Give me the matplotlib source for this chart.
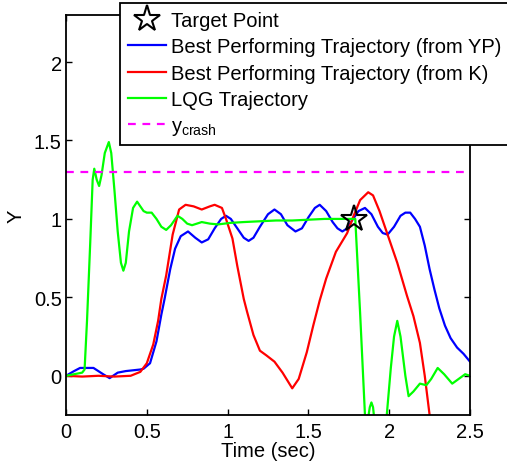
import matplotlib
matplotlib.use("Agg")
import matplotlib.pyplot as plt

plt.rcParams['font.family'] = ['Liberation Sans', 'DejaVu Sans']

# LQG trajectory
t_lqg = [0, 0.05, 0.10, 0.115, 0.13, 0.15, 0.165, 0.175, 0.19, 0.205, 0.22, 0.24, 0.265, 0.28,
         0.30, 0.32, 0.34, 0.355, 0.37, 0.39, 0.415, 0.44, 0.46, 0.48, 0.50, 0.53, 0.56,
         0.59, 0.62, 0.65, 0.69, 0.72, 0.75, 0.78, 0.81, 0.84, 0.89, 0.94, 0.98,
         1.02, 1.1, 1.2, 1.3, 1.4, 1.5, 1.6, 1.7, 1.75, 1.79, 1.82, 1.85,
         1.865, 1.88, 1.89, 1.90, 1.915, 1.94, 1.965, 1.985, 2.01, 2.03, 2.05, 2.07,
         2.10, 2.12, 2.15, 2.19, 2.23, 2.26, 2.30, 2.34, 2.39, 2.43, 2.47, 2.5]
y_lqg = [0, 0.01, 0.02, 0.04, 0.35, 0.85, 1.25, 1.32, 1.25, 1.21, 1.28, 1.42, 1.49, 1.42,
         1.18, 0.92, 0.72, 0.67, 0.72, 0.92, 1.07, 1.11, 1.08, 1.05, 1.04, 1.04, 1.0,
         0.95, 0.93, 0.96, 1.02, 1.0, 0.97, 0.96, 0.97, 0.98, 0.97, 0.965, 0.97,
         0.975, 0.98, 0.985, 0.99, 0.99, 0.995, 1.0, 1.0, 1.0, 1.0, 0.4, -0.25,
         -0.3, -0.2, -0.17, -0.2, -0.35, -0.5, -0.4, -0.25, 0.05, 0.25, 0.35, 0.25,
         0.0, -0.13, -0.1, -0.05, -0.06, -0.02, 0.05, 0.01, -0.05, -0.02, 0.01, 0.0]

# Best performing trajectory (from YP)
t_yp = [0, 0.05, 0.087, 0.17, 0.23, 0.27, 0.32, 0.37, 0.46, 0.48, 0.52, 0.56, 0.59, 0.61,
        0.645, 0.675, 0.71, 0.755, 0.80, 0.84, 0.88, 0.92, 0.96, 0.99, 1.02, 1.06, 1.10,
        1.13, 1.16, 1.20, 1.25, 1.29, 1.33, 1.37, 1.42, 1.46, 1.50, 1.54, 1.57, 1.61, 1.65,
        1.68, 1.71, 1.74, 1.77, 1.81, 1.85, 1.89, 1.93, 1.96, 1.99, 2.03, 2.07, 2.10, 2.13,
        2.16, 2.19, 2.22, 2.25, 2.28, 2.31, 2.345, 2.38, 2.42, 2.46, 2.5]
y_yp = [0, 0.03, 0.05, 0.05, 0.01, -0.015, 0.02, 0.03, 0.04, 0.045, 0.08, 0.22, 0.39, 0.49,
        0.68, 0.81, 0.89, 0.92, 0.88, 0.85, 0.87, 0.94, 1.0, 1.02, 1.0, 0.94, 0.88,
        0.86, 0.88, 0.95, 1.03, 1.06, 1.03, 0.96, 0.92, 0.94, 1.01, 1.07, 1.09, 1.05, 0.98,
        0.94, 0.92, 0.94, 0.99, 1.05, 1.07, 1.03, 0.95, 0.91, 0.90, 0.95, 1.02, 1.04, 1.04,
        1.0, 0.95, 0.83, 0.68, 0.55, 0.43, 0.32, 0.24, 0.18, 0.14, 0.09]

# Best performing trajectory (from K)
t_k = [0, 0.1, 0.2, 0.3, 0.4, 0.46, 0.50, 0.54, 0.57, 0.59, 0.62, 0.66, 0.70, 0.74, 0.79,
       0.84, 0.89, 0.92, 0.965, 0.99, 1.03, 1.06, 1.10, 1.12, 1.16, 1.20, 1.24, 1.29, 1.34,
       1.40, 1.44, 1.49, 1.53, 1.57, 1.61, 1.67, 1.74, 1.78, 1.82, 1.87, 1.90, 1.94, 1.99,
       2.05, 2.11, 2.15, 2.19, 2.22, 2.25, 2.27]
y_k = [0, -0.005, 0.0, -0.005, 0.0, 0.025, 0.08, 0.2, 0.35, 0.49, 0.64, 0.9, 1.06, 1.09, 1.08,
       1.06, 1.08, 1.09, 1.07, 1.0, 0.875, 0.70, 0.49, 0.41, 0.26, 0.16, 0.13, 0.09, 0.02,
       -0.08, -0.02, 0.15, 0.32, 0.48, 0.62, 0.79, 0.91, 1.02, 1.12, 1.17, 1.15, 1.05, 0.9,
       0.72, 0.51, 0.38, 0.21, 0.0, -0.25, -0.4]

target_t = [1.78]
target_y = [1.0]
y_crash = 1.3
xlim = (0, 2.5)
ylim = (-0.25, 2.3)
xticks = [0, 0.5, 1, 1.5, 2, 2.5]
yticks = [0, 0.5, 1, 1.5, 2]
fs = 14.5

fig = plt.figure(figsize=(5.07, 4.64), dpi=100)
ax = fig.add_axes([66/507, 1-416/464, (470-66)/507, (416-16)/464])

lw = 1.6
ax.plot(t_yp, y_yp, color='#0000ff', lw=lw, label='Best Performing Trajectory (from YP)')
ax.plot(t_k, y_k, color='#ff0000', lw=lw, label='Best Performing Trajectory (from K)')
ax.plot(t_lqg, y_lqg, color='#00ff00', lw=lw, label='LQG Trajectory')
ax.axhline(y_crash, color='#ff00ff', lw=lw, ls=(0, (3.5, 3)), label='$\\mathregular{y_{crash}}$')
ax.plot(target_t, target_y, ls='none', marker='*', ms=20, mfc='none', mec='black', mew=1.5,
        label='Target Point')

ax.set_xlim(*xlim)
ax.set_ylim(*ylim)
ax.set_xticks(xticks)
ax.set_xticklabels(['0', '0.5', '1', '1.5', '2', '2.5'])
ax.set_yticks(yticks)
ax.set_yticklabels(['0', '0.5', '1', '1.5', '2'])
ax.tick_params(direction='in', length=4, width=1, top=True, right=True, labelsize=fs, pad=5)
ax.tick_params(axis='y', pad=3)
for s in ax.spines.values():
    s.set_linewidth(1.3)
ax.set_xlabel('Time (sec)', fontsize=fs, labelpad=0)
ax.set_ylabel('Y', fontsize=fs, labelpad=6)

handles, labels = ax.get_legend_handles_labels()
order = [4, 0, 1, 2, 3]
leg = fig.legend([handles[i] for i in order], [labels[i] for i in order],
                 loc='upper left', bbox_to_anchor=(120/507, 1-4/464), bbox_transform=fig.transFigure,
                 fontsize=fs, frameon=True, fancybox=False, edgecolor='black', framealpha=1,
                 borderpad=0.4, labelspacing=0.36, handlelength=1.9, handletextpad=0.25,
                 borderaxespad=0)
leg.get_frame().set_linewidth(1.3)

fig.savefig('out.png', dpi=100)
